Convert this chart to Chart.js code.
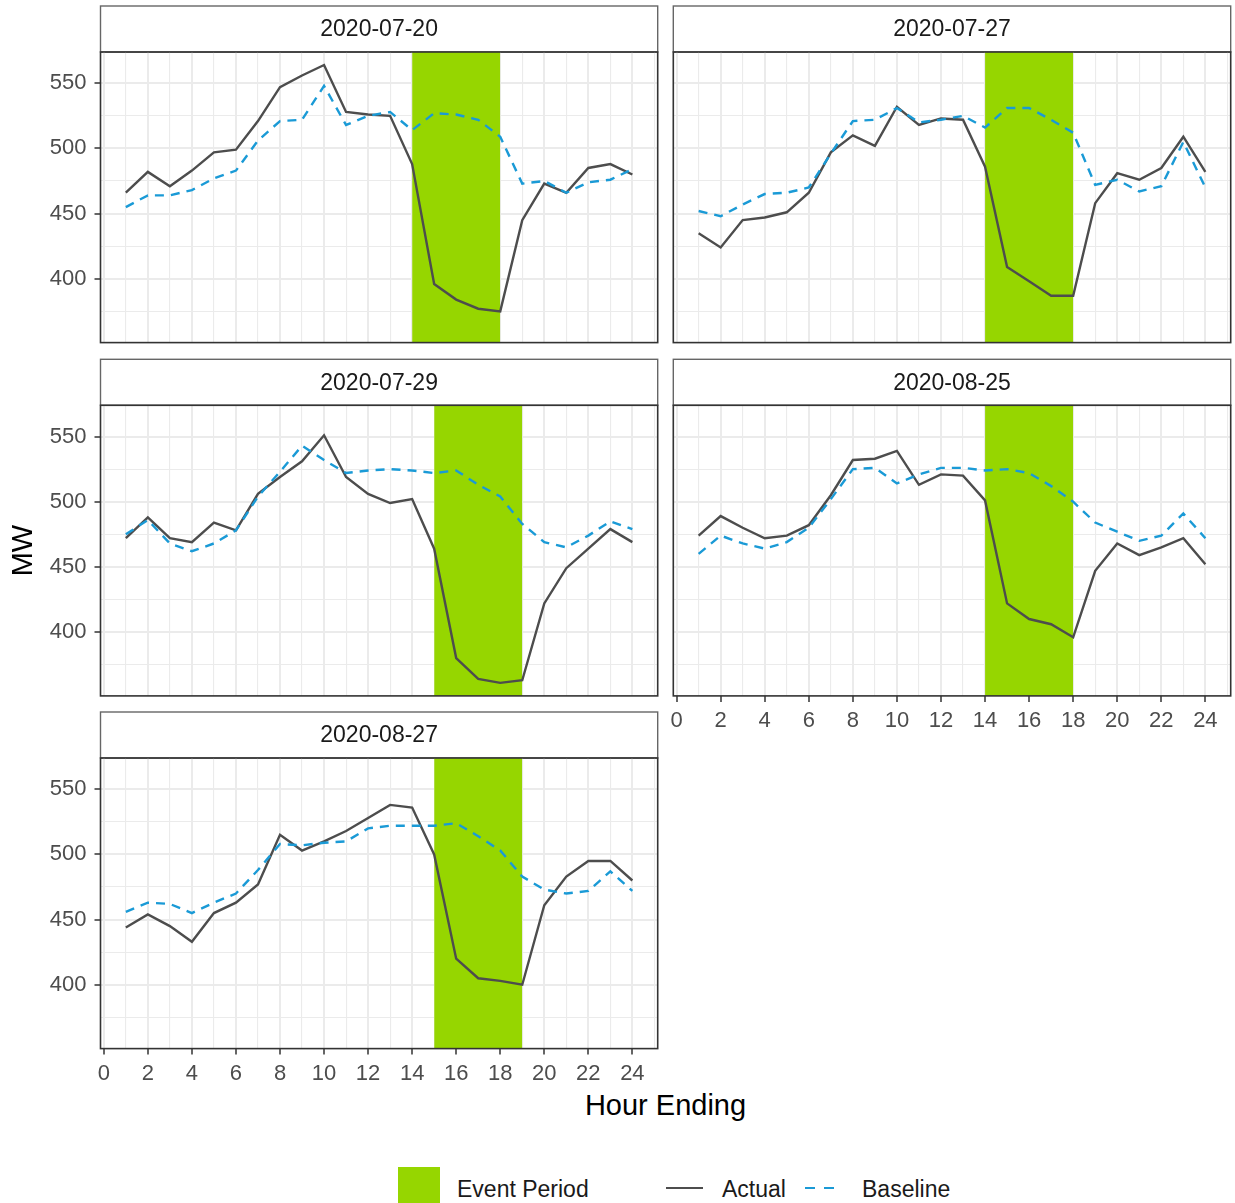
<!DOCTYPE html>
<html>
<head>
<meta charset="utf-8">
<script src="https://cdn.jsdelivr.net/npm/chart.js@4.4.1/dist/chart.umd.min.js"></script>
<style>
  html, body { margin: 0; padding: 0; background: #ffffff; }
  body { width: 1235px; height: 1203px; position: relative; overflow: hidden;
         font-family: "Liberation Sans", Arial, Helvetica, sans-serif; }
  .pane { position: absolute; }
  .pane canvas { display: block; }
  #xtitle { position: absolute; left: 465px; width: 401px; top: 1088px; text-align: center;
            font-size: 29px; line-height: 34px; color: #000; }
  .lg-text { position: absolute; font-size: 23px; line-height: 26px; color: #1a1a1a; white-space: nowrap; }
  #lg-event { position: absolute; left: 398px; top: 1167px; width: 42px; height: 42px; background: #96D600; }
  #lg-actual { position: absolute; left: 666px; top: 1187px; width: 37px; height: 0;
               border-top: 2.4px solid #4D4D4D; }
  #lg-base { position: absolute; left: 805px; top: 1187px; width: 37px; height: 2.4px;
             background: repeating-linear-gradient(to right, #1A9AD6 0 10px, transparent 10px 19px); }
</style>
</head>
<body>
<div id="xtitle">Hour Ending</div>
<div id="lg-event"></div>
<div class="lg-text" style="left:457px; top:1176px;">Event Period</div>
<div id="lg-actual"></div>
<div class="lg-text" style="left:722px; top:1176px;">Actual</div>
<div id="lg-base"></div>
<div class="lg-text" style="left:862px; top:1176px;">Baseline</div>

<script>
// ---------------- data ----------------
const hours = [1,2,3,4,5,6,7,8,9,10,11,12,13,14,15,16,17,18,19,20,21,22,23,24];
const panelDates = ['2020-07-20', '2020-07-27', '2020-07-29', '2020-08-25', '2020-08-27'];

const actual0720   = [466, 482, 471, 483, 497, 499, 521, 547, 556, 564, 528, 526, 525, 488, 396, 384, 377, 375, 445, 473, 466, 485, 488, 480];
const baseline0720 = [455, 464, 464, 468, 477, 483, 506, 521, 522, 548, 518, 525, 528, 514, 527, 526, 522, 509, 473, 475, 466, 474, 476, 484];

const actual0727   = [435, 424, 445, 447, 451, 466, 497, 510, 502, 532, 518, 523, 522, 486, 409, 398, 387, 387, 458, 481, 476, 485, 509, 482];
const baseline0727 = [452, 448, 457, 465, 466, 470, 496, 521, 522, 531, 520, 522, 525, 516, 531, 531, 522, 512, 472, 476, 467, 471, 505, 470];

const actual0729   = [472, 488, 472, 469, 484, 478, 506, 519, 531, 551, 519, 506, 499, 502, 464, 380, 364, 361, 363, 422, 449, 464, 479, 469];
const baseline0729 = [475, 486, 468, 462, 468, 478, 504, 523, 543, 532, 522, 524, 525, 524, 522, 524, 513, 504, 483, 469, 465, 474, 485, 479];

const actual0825   = [474, 489, 480, 472, 474, 482, 505, 532, 533, 539, 513, 521, 520, 501, 422, 410, 406, 396, 447, 468, 459, 465, 472, 452];
const baseline0825 = [460, 474, 468, 464, 469, 480, 502, 525, 526, 514, 521, 526, 526, 524, 525, 522, 512, 500, 484, 477, 470, 474, 491, 472];

const actual0827   = [444, 454, 445, 433, 455, 463, 477, 515, 503, 510, 518, 528, 538, 536, 500, 420, 405, 403, 400, 461, 483, 495, 495, 480];
const baseline0827 = [456, 463, 462, 455, 463, 470, 488, 508, 507, 509, 510, 520, 522, 522, 522, 524, 514, 503, 483, 473, 470, 472, 487, 472];

const eventStart = [14, 14, 15, 14, 15];
const eventEnd   = [18, 18, 19, 18, 19];

const xTickLabels = [0, 2, 4, 6, 8, 10, 12, 14, 16, 18, 20, 22, 24];
const yTickLabels = [400, 450, 500, 550];

// ---------------- layout ----------------
const FONT = '"Liberation Sans", Arial, Helvetica, sans-serif';
const Y_MIN = 351, Y_MAX = 574;
const X_MIN = -0.15, X_MAX = 25.15;

const colGeom = [
  { canvasLeft: 0,   canvasW: 665, l: 100.5, r: 657.7 },
  { canvasLeft: 665, canvasW: 570, l: 673.3, r: 1230.7 }
];
const rowGeom = [
  { canvasTop: 0,   t: 51,    b: 342.6 },
  { canvasTop: 353, t: 404.3, b: 695.9 },
  { canvasTop: 706, t: 757,   b: 1048.6 }
];
const STRIP_H = 45;

const panels = [
  { date: panelDates[0], actual: actual0720, baseline: baseline0720, ev: 0, col: 0, row: 0, showX: false, yTitle: false },
  { date: panelDates[1], actual: actual0727, baseline: baseline0727, ev: 1, col: 1, row: 0, showX: false, yTitle: false },
  { date: panelDates[2], actual: actual0729, baseline: baseline0729, ev: 2, col: 0, row: 1, showX: false, yTitle: true },
  { date: panelDates[3], actual: actual0825, baseline: baseline0825, ev: 3, col: 1, row: 1, showX: true,  yTitle: false },
  { date: panelDates[4], actual: actual0827, baseline: baseline0827, ev: 4, col: 0, row: 2, showX: true,  yTitle: false }
];

const framePlugin = {
  id: 'frame',
  beforeDraw(chart) {
    const { ctx, chartArea: a } = chart;
    const tb = chart.titleBlock;
    ctx.save();
    ctx.fillStyle = '#ffffff';
    ctx.fillRect(a.left, tb.top, a.right - a.left, tb.bottom - tb.top);
    ctx.strokeStyle = '#666666';
    ctx.lineWidth = 1.4;
    ctx.strokeRect(a.left, tb.top, a.right - a.left, tb.bottom - tb.top);
    ctx.restore();
  },
  afterDraw(chart) {
    const { ctx, chartArea: a } = chart;
    ctx.save();
    ctx.strokeStyle = '#333333';
    ctx.lineWidth = 1.6;
    ctx.strokeRect(a.left, a.top, a.right - a.left, a.bottom - a.top);
    ctx.restore();
  }
};

function makePanel(p) {
  const cg = colGeom[p.col], rg = rowGeom[p.row];
  const showY = p.col === 0;
  const canvasH = p.showX ? 400 : 352;
  const div = document.createElement('div');
  div.className = 'pane';
  div.style.left = cg.canvasLeft + 'px';
  div.style.top = rg.canvasTop + 'px';
  const canvas = document.createElement('canvas');
  canvas.width = cg.canvasW; canvas.height = canvasH;
  canvas.style.width = cg.canvasW + 'px'; canvas.style.height = canvasH + 'px';
  div.appendChild(canvas);
  document.body.appendChild(div);

  const yW = cg.l - cg.canvasLeft;
  const xH = rg.canvasTop + canvasH - rg.b;
  const padTop = rg.t - STRIP_H - rg.canvasTop;
  const padRight = cg.canvasLeft + cg.canvasW - cg.r;

  const isMajorX = v => Math.abs(v % 2) < 1e-6;
  const isMajorY = v => Math.abs(v % 50) < 1e-6;

  new Chart(canvas, {
    type: 'line',
    data: {
      datasets: [
        {
          label: 'Baseline',
          data: hours.map((h, i) => ({ x: h, y: p.baseline[i] })),
          borderColor: '#1A9AD6', borderWidth: 2.4, borderDash: [9, 7],
          pointRadius: 0, tension: 0, fill: false, order: 0
        },
        {
          label: 'Actual',
          data: hours.map((h, i) => ({ x: h, y: p.actual[i] })),
          borderColor: '#4D4D4D', borderWidth: 2.4,
          pointRadius: 0, tension: 0, fill: false, order: 1
        },
        {
          label: 'Event Period',
          data: [{ x: eventStart[p.ev], y: Y_MAX }, { x: eventEnd[p.ev], y: Y_MAX }],
          borderColor: 'rgba(0,0,0,0)', borderWidth: 0,
          backgroundColor: '#96D600', fill: 'start',
          pointRadius: 0, tension: 0, order: 2
        }
      ]
    },
    options: {
      responsive: false,
      devicePixelRatio: 1,
      animation: false,
      events: [],
      layout: { padding: { top: padTop, right: padRight, bottom: 0, left: 0 } },
      plugins: {
        legend: { display: false },
        tooltip: { enabled: false },
        title: {
          display: true, text: p.date, fullSize: false, position: 'top', align: 'center',
          color: '#1A1A1A',
          font: { family: FONT, size: 23, weight: 'normal', lineHeight: 1 },
          padding: { top: 12.5, bottom: 10.5 }
        }
      },
      scales: {
        x: {
          type: 'linear', min: X_MIN, max: X_MAX,
          border: { display: false },
          grid: {
            color: '#EBEBEB',
            lineWidth: c => (c.tick && isMajorX(c.tick.value)) ? 2 : 1.1,
            drawTicks: p.showX, tickLength: 6, tickWidth: 1.5,
            tickColor: c => (c.tick && isMajorX(c.tick.value)) ? '#333333' : 'rgba(0,0,0,0)'
          },
          ticks: {
            display: p.showX, stepSize: 1, includeBounds: false, autoSkip: false,
            maxRotation: 0, minRotation: 0, padding: 8, color: '#4D4D4D',
            font: { family: FONT, size: 22, lineHeight: 1 },
            callback: v => xTickLabels.includes(Math.round(v * 1000) / 1000) ? String(v) : ''
          },
          afterFit: s => { s.height = xH; s.paddingLeft = 0; s.paddingRight = 0; }
        },
        y: {
          type: 'linear', min: Y_MIN, max: Y_MAX,
          border: { display: false },
          grid: {
            color: '#EBEBEB',
            lineWidth: c => (c.tick && isMajorY(c.tick.value)) ? 2 : 1.1,
            drawTicks: showY, tickLength: 6, tickWidth: 1.5,
            tickColor: c => (c.tick && isMajorY(c.tick.value)) ? '#333333' : 'rgba(0,0,0,0)'
          },
          ticks: {
            display: showY, stepSize: 25, includeBounds: false, autoSkip: false,
            padding: 8, color: '#4D4D4D',
            font: { family: FONT, size: 22, lineHeight: 1 },
            callback: v => yTickLabels.includes(Math.round(v)) ? String(v) : ''
          },
          title: {
            display: p.yTitle, text: 'MW', color: '#000000',
            font: { family: FONT, size: 29, weight: 'normal', lineHeight: 1.2 },
            padding: { top: 6.6, bottom: 0 }
          },
          afterFit: s => { s.width = yW; s.paddingTop = 0; s.paddingBottom = 0; }
        }
      }
    },
    plugins: [framePlugin]
  });
}

panels.forEach(makePanel);
</script>
</body>
</html>
